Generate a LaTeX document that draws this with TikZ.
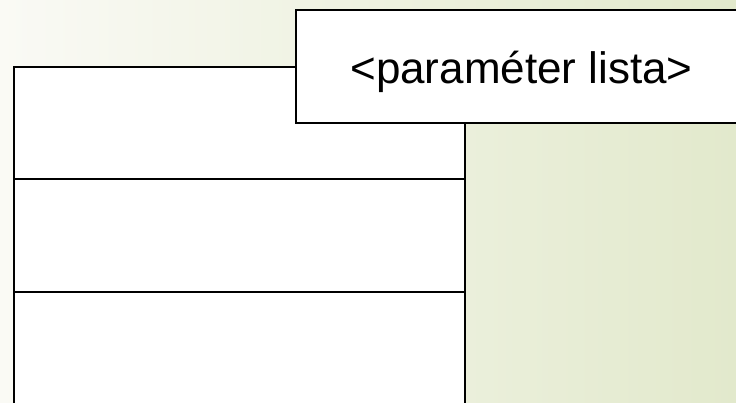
\documentclass[tikz,border=0pt]{standalone}
\usepackage{fontspec}
\setmainfont{Liberation Sans}
\definecolor{bgleft}{RGB}{250,250,245}
\definecolor{bgright}{RGB}{226,233,204}
\begin{document}
\begin{tikzpicture}[x=1pt,y=-1pt,
  boxline/.style={draw=black,line width=2pt,fill=white},
  sepline/.style={draw=black,line width=2pt},
  label/.style={font=\fontsize{44}{50}\selectfont,inner sep=0pt,anchor=base}]
\path[left color=bgleft,right color=bgright] (0,0) rectangle (736,402);
\useasboundingbox (0,0) rectangle (736,402);
\coordinate (ctl) at (14,67);
\coordinate (cbr) at (465,410);
\path[boxline] (ctl) rectangle (cbr);
\coordinate (s1l) at (14,179);
\coordinate (s1r) at (465,179);
\coordinate (s2l) at (14,292);
\coordinate (s2r) at (465,292);
\draw[sepline] (s1l) -- (s1r);
\draw[sepline] (s2l) -- (s2r);
\coordinate (ptl) at (296,10);
\coordinate (pbr) at (745,123);
\path[boxline] (ptl) rectangle (pbr);
\node[label] (param) at (521.5,83) {<paraméter lista>};
\end{tikzpicture}
\end{document}
